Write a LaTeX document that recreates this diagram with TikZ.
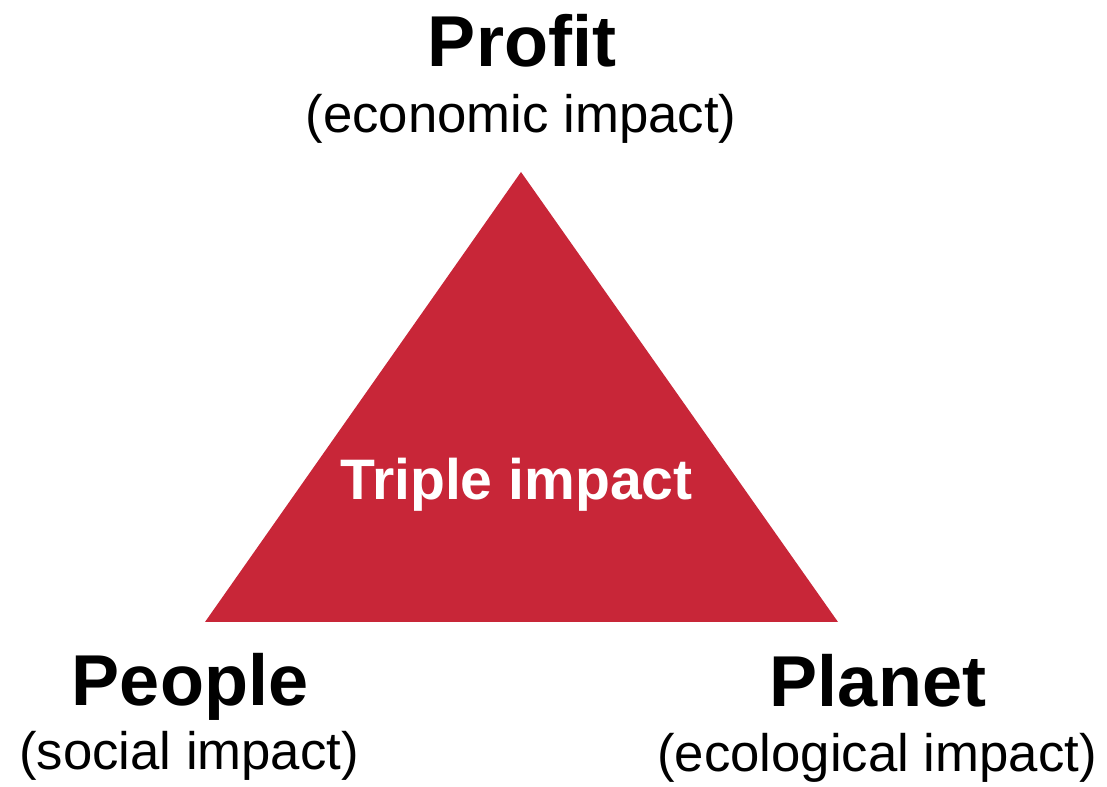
\documentclass[tikz,border=0pt]{standalone}
\usepackage{fontspec}
\setmainfont{Liberation Sans}
\definecolor{impactred}{RGB}{200,38,56}
\tikzset{
    pillar/.style={anchor=base, font=\fontsize{41}{41}\selectfont\bfseries},
    subline/.style={anchor=base, font=\fontsize{30}{30}\selectfont},
}
\begin{document}
\begin{tikzpicture}
        \useasboundingbox (0,0) rectangle (22.14,15.74);
        \fill[impactred] (10.42,12.30) -- (4.10,3.30) -- (16.76,3.30) -- cycle;

        \node[anchor=base, text=white, font=\fontsize{32.5}{32.5}\selectfont\bfseries](triple) at (10.33, 5.74){Triple impact};

        \node[pillar](profit) at (10.44, 14.40){Profit};
        \node[subline](economic) at (10.42, 13.08){(economic impact)};

        \node[pillar](people) at (3.80, 1.62){People};
        \node[subline](social) at (3.78, 0.34){(social impact)};

        \node[pillar](planet) at (17.56, 1.60){Planet};
        \node[subline](ecological) at (17.54, 0.30){(ecological impact)};
    \end{tikzpicture}
\end{document}
